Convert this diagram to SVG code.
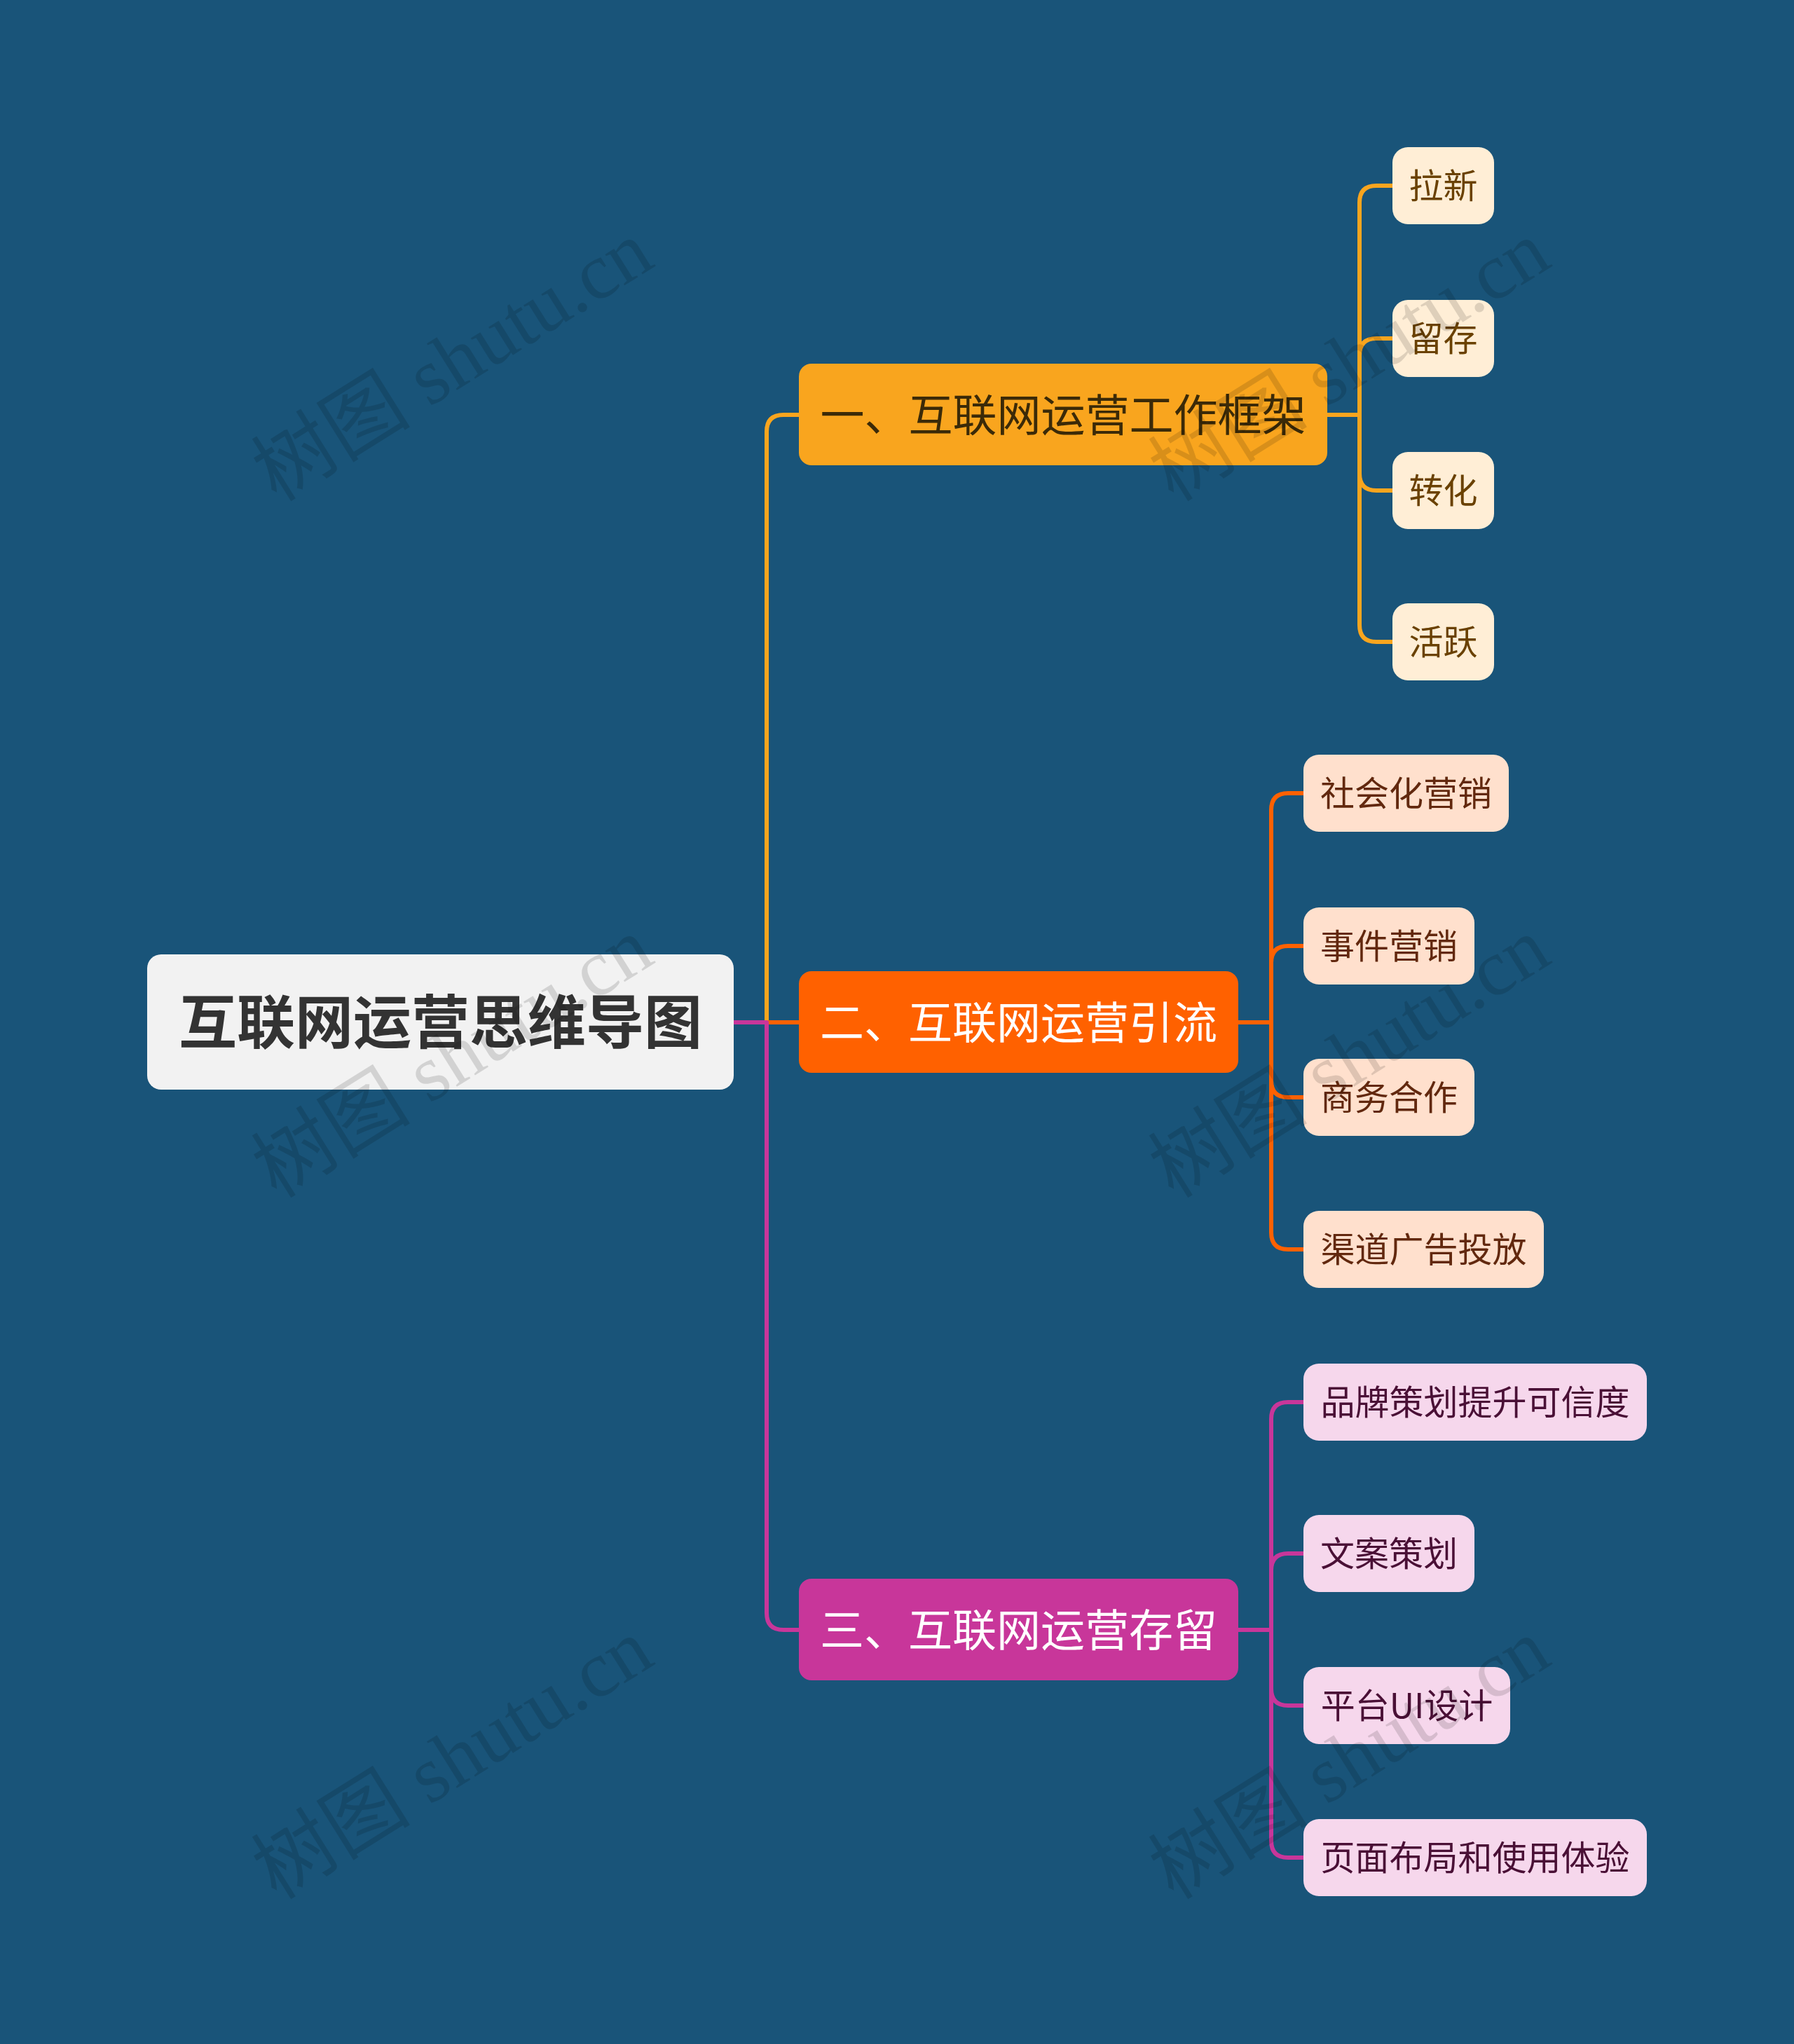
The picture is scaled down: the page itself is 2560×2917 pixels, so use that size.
<svg xmlns="http://www.w3.org/2000/svg" width="2560" height="2917" viewBox="0 0 2560 2917">
<style>
.cjk{font-family:"Noto Sans CJK SC","Noto Sans",sans-serif;text-anchor:middle}
.root{font-size:83px;font-weight:bold;fill:#333333}
.b{font-size:63px}
.l{font-size:49px}
.wm{font-family:"Liberation Serif","Noto Sans CJK SC",serif;font-size:114px;fill:#000;fill-opacity:0.13;text-anchor:middle}
.c{fill:none;stroke-width:6;stroke-linecap:round;stroke-linejoin:round}
.y{stroke:#F9A51E}.o{stroke:#FF6100}.m{stroke:#C8369A}
</style>
<rect x="0" y="0" width="2560" height="2917" fill="#195479"/>
<g id="connectors">
<path class="c y" d="M1047 1459 H1094 V616 Q1094 592 1118 592 H1140"/>
<path class="c o" d="M1047 1459 H1140"/>
<path class="c m" d="M1047 1459 H1094 V2302 Q1094 2326 1118 2326 H1140"/>
<path class="c y" d="M1894 592 H1940 V289 Q1940 265 1964 265 H1987"/>
<path class="c y" d="M1894 592 H1940 V507 Q1940 483 1964 483 H1987"/>
<path class="c y" d="M1894 592 H1940 V676 Q1940 700 1964 700 H1987"/>
<path class="c y" d="M1894 592 H1940 V892 Q1940 916 1964 916 H1987"/>
<path class="c o" d="M1767 1459 H1814 V1156 Q1814 1132 1838 1132 H1860"/>
<path class="c o" d="M1767 1459 H1814 V1374 Q1814 1350 1838 1350 H1860"/>
<path class="c o" d="M1767 1459 H1814 V1542 Q1814 1566 1838 1566 H1860"/>
<path class="c o" d="M1767 1459 H1814 V1759 Q1814 1783 1838 1783 H1860"/>
<path class="c m" d="M1767 2326 H1814 V2025 Q1814 2001 1838 2001 H1860"/>
<path class="c m" d="M1767 2326 H1814 V2241 Q1814 2217 1838 2217 H1860"/>
<path class="c m" d="M1767 2326 H1814 V2410 Q1814 2434 1838 2434 H1860"/>
<path class="c m" d="M1767 2326 H1814 V2627 Q1814 2651 1838 2651 H1860"/>
</g>
<g id="root"><rect x="210" y="1362" width="837" height="193" rx="20" fill="#F2F2F2"/><text class="cjk root" x="628.5" y="1489">互联网运营思维导图</text></g>
<g id="b1"><rect x="1140" y="519" width="754" height="145" rx="18" fill="#F9A51E"/><text class="cjk b" x="1517" y="615" fill="#3B2A08">一、互联网运营工作框架</text></g>
<g id="b2"><rect x="1140" y="1386" width="627" height="145" rx="18" fill="#FF6100"/><text class="cjk b" x="1453.5" y="1482" fill="#FFFFFF">二、互联网运营引流</text></g>
<g id="b3"><rect x="1140" y="2253" width="627" height="145" rx="18" fill="#C8369A"/><text class="cjk b" x="1453.5" y="2349" fill="#FFFFFF">三、互联网运营存留</text></g>
<g id="l1a"><rect x="1987" y="210" width="145" height="110" rx="22" fill="#FFEED6"/><text class="cjk l" x="2059.5" y="283" fill="#6A4100">拉新</text></g>
<g id="l1b"><rect x="1987" y="428" width="145" height="110" rx="22" fill="#FFEED6"/><text class="cjk l" x="2059.5" y="501" fill="#6A4100">留存</text></g>
<g id="l1c"><rect x="1987" y="645" width="145" height="110" rx="22" fill="#FFEED6"/><text class="cjk l" x="2059.5" y="718" fill="#6A4100">转化</text></g>
<g id="l1d"><rect x="1987" y="861" width="145" height="110" rx="22" fill="#FFEED6"/><text class="cjk l" x="2059.5" y="934" fill="#6A4100">活跃</text></g>
<g id="l2a"><rect x="1860" y="1077" width="293" height="110" rx="22" fill="#FFE0CD"/><text class="cjk l" x="2006.5" y="1150" fill="#62280E">社会化营销</text></g>
<g id="l2b"><rect x="1860" y="1295" width="244" height="110" rx="22" fill="#FFE0CD"/><text class="cjk l" x="1982" y="1368" fill="#62280E">事件营销</text></g>
<g id="l2c"><rect x="1860" y="1511" width="244" height="110" rx="22" fill="#FFE0CD"/><text class="cjk l" x="1982" y="1584" fill="#62280E">商务合作</text></g>
<g id="l2d"><rect x="1860" y="1728" width="343" height="110" rx="22" fill="#FFE0CD"/><text class="cjk l" x="2031.5" y="1801" fill="#62280E">渠道广告投放</text></g>
<g id="l3a"><rect x="1860" y="1946" width="490" height="110" rx="22" fill="#F6D7EC"/><text class="cjk l" x="2105" y="2019" fill="#4A1036">品牌策划提升可信度</text></g>
<g id="l3b"><rect x="1860" y="2162" width="244" height="110" rx="22" fill="#F6D7EC"/><text class="cjk l" x="1982" y="2235" fill="#4A1036">文案策划</text></g>
<g id="l3c"><rect x="1860" y="2379" width="295" height="110" rx="22" fill="#F6D7EC"/><text class="cjk l" x="2007.5" y="2452" fill="#4A1036">平台UI设计</text></g>
<g id="l3d"><rect x="1860" y="2596" width="490" height="110" rx="22" fill="#F6D7EC"/><text class="cjk l" x="2105" y="2669" fill="#4A1036">页面布局和使用体验</text></g>
<g id="watermarks">
<text class="wm" transform="translate(666 548) rotate(-32)">树图 shutu.cn</text>
<text class="wm" transform="translate(1946 548) rotate(-32)">树图 shutu.cn</text>
<text class="wm" transform="translate(666 1542) rotate(-32)">树图 shutu.cn</text>
<text class="wm" transform="translate(1946 1542) rotate(-32)">树图 shutu.cn</text>
<text class="wm" transform="translate(666 2543) rotate(-32)">树图 shutu.cn</text>
<text class="wm" transform="translate(1946 2543) rotate(-32)">树图 shutu.cn</text>
</g>
</svg>
